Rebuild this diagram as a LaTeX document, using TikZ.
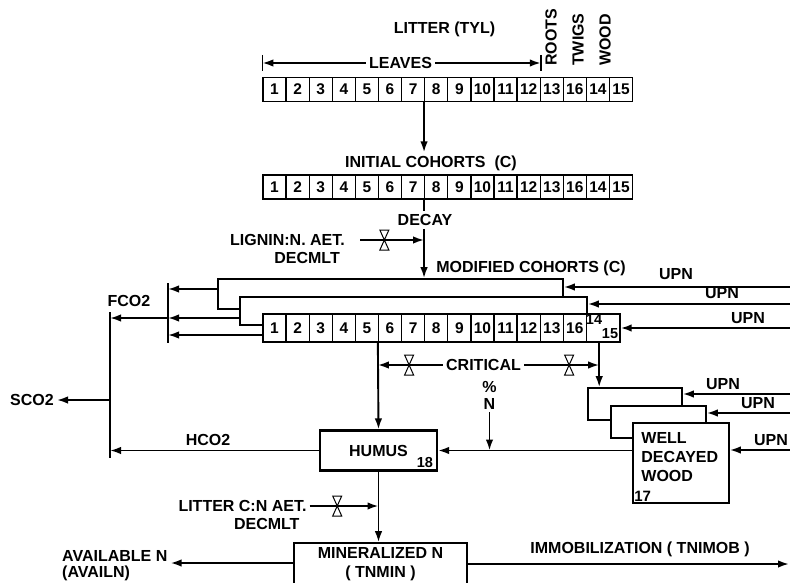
\documentclass[tikz,border=0pt]{standalone}
\usepackage{fontspec}
\setmainfont{Liberation Sans}
\usetikzlibrary{arrows.meta,calc,positioning}

\tikzset{
  flow/.style={line width=1.9pt, -{Latex[length=11pt,width=7.5pt]}},
  line/.style={line width=1.9pt},
  lbl/.style={font=\fontsize{16}{19}\selectfont\bfseries, inner sep=3pt},
  cell/.style={draw, fill=white, line width=1.3pt, inner sep=0pt,
    minimum width=23.1pt, minimum height=24pt, font=\fontsize{15.5}{15.5}\selectfont\bfseries},
  bigbox/.style={draw, fill=white, line width=1.6pt, inner sep=0pt},
  valve/.pic={\draw[line width=1pt, fill=white] (-4.5,-10) -- (4.5,-10) -- (-4.5,10) -- (4.5,10) -- cycle;},
}

\begin{document}
\begin{tikzpicture}[x=1pt, y=-1pt]
    \path[use as bounding box, clip] (0,0) rectangle (790,583);

    % 凋落物
    \node[lbl] (litter) at (444.5,29) {LITTER (TYL)};
    \foreach \lab [count=\i] in {1,2,3,4,5,6,7,8,9,10,11,12,13,16,14,15}
        \node[cell] (r1-\i) at ({263+(\i-0.5)*23.1},89.5) {\lab};
    \node[lbl] (leaves) at (400.5,63) {LEAVES};
    \draw[flow] (leaves.west) -- (leaves.west -| r1-1.west);
    \draw[flow] (leaves.east) -- (leaves.east -| r1-12.east);
    \draw[line width=1.3pt] (r1-1.west |- leaves.west) ++(0,-8) -- ++(0,16);
    \draw[line width=1.3pt] (r1-12.east |- leaves.west) ++(0,-8) -- ++(0,16);
    \node[lbl, rotate=90, anchor=west] (roots) at (551,69) {ROOTS};
    \node[lbl, rotate=90, anchor=west] (twigs) at (578,69) {TWIGS};
    \node[lbl, rotate=90, anchor=west] (wood) at (605,69) {WOOD};

    % 初始组
    \node[lbl] (initial) at (431,163) {INITIAL COHORTS~~(C)};
    \draw[flow] (r1-8.south west) -- (r1-8.south west |- initial.north);
    \foreach \lab [count=\i] in {1,2,3,4,5,6,7,8,9,10,11,12,13,16,14,15}
        \node[cell] (r2-\i) at ({263+(\i-0.5)*23.1},187) {\lab};

    % 分解
    \node[lbl] (decay) at (425,220) {DECAY};
    \node[lbl] (lignin) at (287.5,240) {LIGNIN:N. AET.};
    \node[lbl, anchor=north east] (decmlt1) at ($(lignin.south east)+(-5,0)$) {DECMLT};
    \node[lbl] (modlab) at (531,268) {MODIFIED COHORTS (C)};

    \node[bigbox, minimum width=345pt, minimum height=30pt] (modA) at (390.5,294) {};
    \node[bigbox, minimum width=347pt, minimum height=28pt] (modB) at (413.5,311) {};
    \foreach \lab [count=\i] in {1,2,3,4,5,6,7,8,9,10,11,12,13,16}
        \node[cell, minimum height=28pt] (r3-\i) at ({263+(\i-0.5)*23.1},328) {\lab};
    \node[cell, minimum height=28pt, minimum width=33.6pt] (r3-15) at (603.2,328) {};
    \node[lbl, font=\fontsize{14.5}{14.5}\selectfont\bfseries, inner sep=0pt] (n14) at (594,320) {14};
    \node[lbl, font=\fontsize{14.5}{14.5}\selectfont\bfseries, inner sep=0pt] (n15) at (610,334) {15};

    \draw[line] (r2-8.south west) -- (r2-8.south west |- decay.north);
    \draw[flow] (r2-8.south west |- decay.south) -- (r2-8.south west |- modA.north);
    \coordinate (ligA) at ([xshift=12pt]lignin.east);
    \coordinate (ligB) at (lignin.east -| r2-8.south west);
    \draw[flow] (ligA) -- (ligB);
    \pic at ($(ligA)!0.38!(ligB)$) {valve};

    % 吸收氮
    \coordinate (u1) at (792,287);
    \coordinate (u2) at (792,304);
    \coordinate (u3) at (792,328);
    \draw[flow] (u1) -- (u1 -| modA.east);
    \draw[flow] (u2) -- (u2 -| modB.east);
    \draw[flow] (u3) -- (u3 -| r3-15.east);
    \node[lbl] (upn1) at (676,274) {UPN};
    \node[lbl] (upn2) at (722,293) {UPN};
    \node[lbl] (upn3) at (748,318) {UPN};

    % 呼吸 CO2
    \coordinate (barT) at (168,283);
    \coordinate (barB) at (168,343);
    \coordinate (colT) at (110,312);
    \coordinate (colB) at (110,458);
    \draw[line] (barT) -- (barB);
    \draw[line] (colT) -- (colB);
    \draw[flow] (modA.west |- 0,289) -- (barT |- 0,289);
    \draw[flow] (modB.west |- 0,318) -- (barT |- 0,318);
    \draw[flow] (r3-1.west |- 0,335) -- (barT |- 0,335);
    \draw[flow] (barT |- 0,318) -- (colT |- 0,318);
    \node[lbl] (fco2) at (129,301) {FCO2};
    \node[lbl, anchor=east] (sco2) at (57,400) {SCO2};
    \draw[flow] (colT |- sco2.east) -- (sco2.east);

    % 腐殖质
    \node[bigbox, lbl, line width=2.2pt, minimum width=117pt, minimum height=40pt] (humus) at (378.5,450.5) {HUMUS};
    \node[lbl, anchor=south east, font=\fontsize{14.5}{14.5}\selectfont\bfseries] (h18) at ($(humus.south east)+(-2,-1)$) {18};
    \node[lbl] (hco2) at (208,440) {HCO2};
    \draw[flow] (humus.west) -- (colT |- humus.west);
    \draw[flow] (r3-6.south west) -- (humus.north);

    % 临界氮
    \node[lbl] (crit) at (483.5,365) {CRITICAL};
    \node[lbl, align=center] (pct) at (489.5,395) {\%\\[-2pt]N};
    \coordinate (wdtop) at ($(r3-15.south)+(-4,0)$);
    \coordinate (cl) at (crit.west -| r3-6.south west);
    \coordinate (cr) at (crit.east -| wdtop);
    \draw[flow] (crit.west) -- (cl);
    \draw[flow] (crit.east) -- (cr);
    \pic at ($(crit.west)!0.52!(cl)$) {valve};
    \pic at ($(crit.east)!0.6!(cr)$) {valve};
    \draw[flow] (pct.south) -- (pct.south |- humus.east);

    % 腐朽木
    \node[bigbox, minimum width=94pt, minimum height=32pt] (wd1) at (635,404) {};
    \node[bigbox, minimum width=95pt, minimum height=32pt] (wd2) at (658.5,422) {};
    \node[bigbox, minimum width=96pt, minimum height=80pt] (wd3) at (681,463) {};
    \node[lbl, anchor=west, align=left] (wdtxt) at ($(wd3.west)+(6,-6)$) {WELL\\DECAYED\\WOOD};
    \node[lbl, anchor=south west, font=\fontsize{15}{15}\selectfont\bfseries, inner sep=1pt] (wd17) at ($(wd3.south west)+(1,-1)$) {17};
    \draw[flow] (wdtop) -- (wdtop |- wd1.north);
    \draw[flow] (wd3.west |- humus.east) -- (humus.east);
    \coordinate (u4) at (792,394);
    \coordinate (u5) at (792,413);
    \coordinate (u6) at (792,450);
    \draw[flow] (u4) -- (u4 -| wd1.east);
    \draw[flow] (u5) -- (u5 -| wd2.east);
    \draw[flow] (u6) -- (u6 -| wd3.east);
    \node[lbl] (upn4) at (723,384) {UPN};
    \node[lbl] (upn5) at (758,403) {UPN};
    \node[lbl] (upn6) at (771,440) {UPN};

    % 矿化
    \node[bigbox, lbl, align=center, minimum width=173pt, minimum height=42pt] (minz) at (380.5,564) {MINERALIZED N\\( TNMIN )};
    \node[lbl] (litcn) at (242.5,506) {LITTER C:N AET.};
    \node[lbl, anchor=north east] (decmlt2) at ($(litcn.south east)+(-7,0)$) {DECMLT};
    \coordinate (lcA) at (litcn.east);
    \coordinate (lcB) at (litcn.east -| humus.south);
    \draw[flow] (humus.south) -- (humus.south |- minz.north);
    \draw[flow] (lcA) -- (lcB);
    \pic at ($(lcA)!0.4!(lcB)$) {valve};

    \node[lbl, anchor=west] (avail) at (59,556) {AVAILABLE N};
    \node[lbl, anchor=north west, inner sep=1pt] (availn) at ([xshift=2pt]avail.south west) {(AVAILN)};
    \draw[flow] (minz.west |- 0,563) -- (avail.east |- 0,563);
    \node[lbl] (immob) at (640,549) {IMMOBILIZATION ( TNIMOB )};
    \coordinate (imEnd) at (789,564);
    \draw[flow] (minz.east) -- (imEnd);
\end{tikzpicture}
\end{document}
